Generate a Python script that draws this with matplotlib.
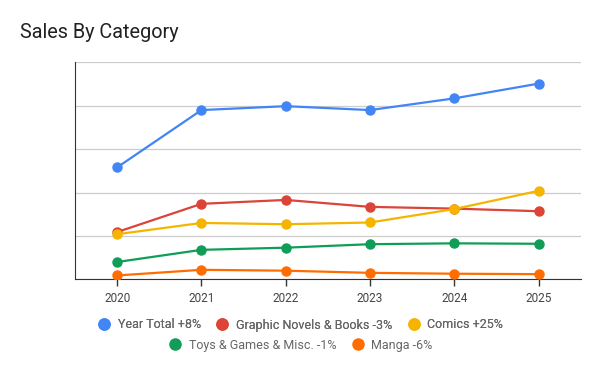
import matplotlib.pyplot as plt
from matplotlib.lines import Line2D

plt.rcParams["font.family"] = ["Roboto", "DejaVu Sans"]

years = [2020, 2021, 2022, 2023, 2024, 2025]
year_total = [2.58, 3.90, 3.99, 3.90, 4.17, 4.51]
graphic_novels = [1.09, 1.74, 1.83, 1.67, 1.63, 1.57]
comics = [1.04, 1.30, 1.27, 1.31, 1.62, 2.04]
toys_games = [0.40, 0.68, 0.73, 0.81, 0.83, 0.82]
manga = [0.09, 0.22, 0.20, 0.15, 0.13, 0.12]

series = [
    ("Year Total +8%", year_total, "#4285F4"),
    ("Graphic Novels & Books -3%", graphic_novels, "#DB4437"),
    ("Comics +25%", comics, "#F4B400"),
    ("Toys & Games & Misc. -1%", toys_games, "#0F9D58"),
    ("Manga -6%", manga, "#FF6D01"),
]

fig = plt.figure(figsize=(6, 3.71), dpi=100)
ax = fig.add_axes([0.125, 0.247, 0.843, 0.585])

for label, values, color in series:
    ax.plot(years, values, color=color, linewidth=1.6, marker="o", markersize=6.5, label=label, zorder=3)

ax.set_xlim(2019.5, 2025.5)
ax.set_ylim(0, 5)
ax.set_xticks(years)
ax.set_xticklabels([str(y) for y in years], fontsize=8.5, color="#444444")
ax.set_yticks([0, 1, 2, 3, 4, 5])
ax.set_yticklabels([])
ax.tick_params(axis="y", length=0)
ax.tick_params(axis="x", length=5, width=1, color="#333333", pad=4)
ax.grid(axis="y", color="#cccccc", linewidth=0.9, zorder=0)
for side in ("top", "right"):
    ax.spines[side].set_visible(False)
ax.spines["left"].set_color("#333333")
ax.spines["bottom"].set_color("#333333")

fig.text(20 / 600, 1 - 32 / 371, "Sales By Category", fontsize=14.3, color="#212121", va="center", ha="left")


def handle(color):
    return Line2D([], [], linestyle="none", marker="o", markersize=8, color=color)


legend_style = dict(
    loc="center", frameon=False, fontsize=9, labelcolor="#666666",
    handletextpad=0.5, columnspacing=1.1, handlelength=1.2,
)
row1 = series[:3]
row2 = series[3:]
leg1 = fig.legend(
    [handle(c) for _, _, c in row1], [l for l, _, _ in row1],
    bbox_to_anchor=(0.5, 1 - 325 / 371), ncol=3, **legend_style,
)
fig.legend(
    [handle(c) for _, _, c in row2], [l for l, _, _ in row2],
    bbox_to_anchor=(0.5, 1 - 345 / 371), ncol=2, **legend_style,
)
fig.add_artist(leg1)

fig.savefig("out.png", dpi=100)
